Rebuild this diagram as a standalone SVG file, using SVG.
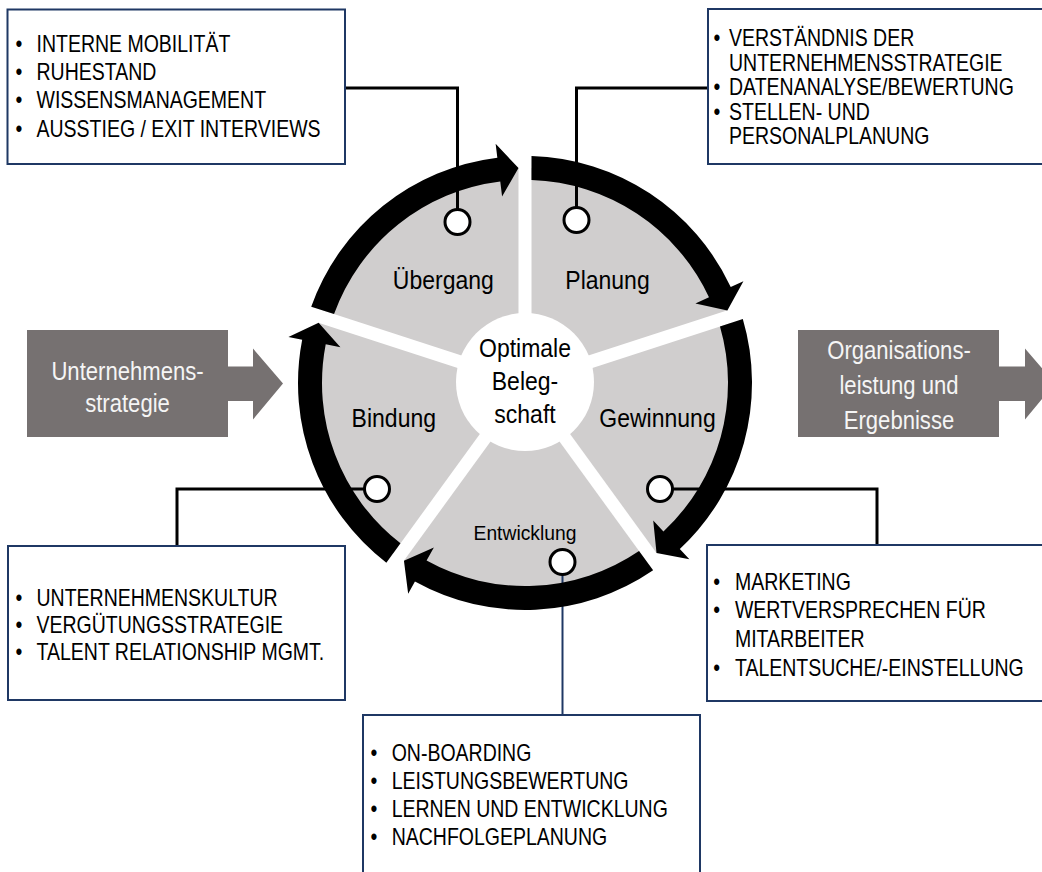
<svg xmlns="http://www.w3.org/2000/svg" width="1042" height="872" viewBox="0 0 1042 872">
<style>
.box{fill:#fff;stroke:#1f3864;stroke-width:2}
.conn{fill:none;stroke:#000;stroke-width:3}
.conn2{fill:none;stroke:#1f3864;stroke-width:2}
.bub{fill:#fff;stroke:#000;stroke-width:3}
.arr{fill:#000}
.spoke{stroke:#fff;stroke-width:13}
.bt{font-family:"Liberation Sans",Arial,sans-serif;font-size:23.5px;fill:#000}
.lbl{font-family:"Liberation Sans",Arial,sans-serif;font-size:25px;fill:#000;text-anchor:middle}
.gb{fill:#767171}
.gt{font-family:"Liberation Sans",Arial,sans-serif;font-size:26px;fill:#f5f5f5;text-anchor:middle}
</style>
<rect width="1042" height="872" fill="#fff"/>

<g id="input">
<path class="gb" d="M27,330 H228 V366.5 H253 V348.5 L283,383.5 L253,419.5 V401 H228 V437 H27 Z"/>
<g transform="translate(127.5,0) scale(0.85,1)"><text class="gt" x="0" y="380">Unternehmens-</text><text class="gt" x="0" y="412">strategie</text></g>
</g>
<g id="output">
<path class="gb" d="M798,330 H999 V366.5 H1025 V348.5 L1055,383.5 L1025,419.5 V401 H999 V437 H798 Z"/>
<g transform="translate(899,0) scale(0.85,1)"><text class="gt" x="0" y="359">Organisations-</text><text class="gt" x="0" y="394.5">leistung und</text><text class="gt" x="0" y="429">Ergebnisse</text></g>
</g>

<g id="pie">
<circle cx="525" cy="383" r="215" fill="#d0cece"/>
<line class="spoke" x1="525" y1="383" x2="525" y2="163"/>
<line class="spoke" x1="525" y1="383" x2="734.23" y2="315.02"/>
<line class="spoke" x1="525" y1="383" x2="654.31" y2="560.98"/>
<line class="spoke" x1="525" y1="383" x2="395.69" y2="560.98"/>
<line class="spoke" x1="525" y1="383" x2="315.77" y2="315.02"/>
</g>

<g id="center">
<circle cx="525" cy="382" r="69" fill="#fff"/>
<g transform="translate(525,0) scale(0.92,1)"><text class="lbl" x="0" y="357">Optimale</text><text class="lbl" x="0" y="390">Beleg-</text><text class="lbl" x="0" y="423">schaft</text></g>
</g>

<g id="connectors">
<path class="conn" d="M345,88 H457.5 V222"/>
<path class="conn" d="M708,88 H576.5 V220"/>
<path class="conn" d="M377,489 H177 V546"/>
<path class="conn" d="M660,489 H877 V545"/>
<path class="conn2" d="M562.5,562 V715"/>
</g>

<g id="cycle-arrows">
<path class="arr" d="M531.50,156.09 A227,227 0 0 1 730.73,287.07 L743.42,281.15 L727.38,310.42 L695.39,303.55 L708.98,297.21 A203,203 0 0 0 531.48,180.10 Z"/>
<path class="arr" d="M742.81,319.07 A227,227 0 0 1 679.81,549.02 L689.36,559.26 L656.53,553.08 L653.22,520.49 L663.45,531.46 A203,203 0 0 0 719.97,326.47 Z"/>
<path class="arr" d="M653.14,570.37 A227,227 0 0 1 414.95,581.54 L408.16,593.78 L403.94,560.68 L433.86,547.43 L426.58,560.55 A203,203 0 0 0 639.03,550.95 Z"/>
<path class="arr" d="M386.35,562.73 A227,227 0 0 1 302.17,339.69 L288.43,337.01 L318.61,322.77 L340.45,347.13 L325.73,344.27 A203,203 0 0 0 400.48,543.32 Z"/>
<path class="arr" d="M311.21,306.70 A227,227 0 0 1 497.34,157.69 L495.63,143.80 L518.51,168.10 L502.09,196.40 L500.26,181.51 A203,203 0 0 0 334.04,314.12 Z"/>
</g>

<g id="uebergang">
<g transform="translate(443.3,0) scale(0.92,1)"><text class="lbl" x="0" y="289">Übergang</text></g>
<circle class="bub" cx="457.5" cy="222" r="12.5"/>
</g>
<g id="planung">
<g transform="translate(607.5,0) scale(0.92,1)"><text class="lbl" x="0" y="289">Planung</text></g>
<circle class="bub" cx="576.5" cy="220" r="12.5"/>
</g>
<g id="gewinnung">
<g transform="translate(657.5,0) scale(0.92,1)"><text class="lbl" x="0" y="427">Gewinnung</text></g>
<circle class="bub" cx="660" cy="489" r="12.5"/>
</g>
<g id="entwicklung">
<g transform="translate(525,0) scale(0.92,1)"><text class="lbl" x="0" y="540" style="font-size:21px">Entwicklung</text></g>
<circle class="bub" cx="562.5" cy="562" r="12.5"/>
</g>
<g id="bindung">
<g transform="translate(393.8,0) scale(0.92,1)"><text class="lbl" x="0" y="427">Bindung</text></g>
<circle class="bub" cx="377" cy="489" r="12.5"/>
</g>

<g id="box-uebergang">
<rect class="box" x="7.5" y="9.5" width="337.5" height="154.5"/>
<g transform="translate(15.6,0) scale(0.83,1)">
<text class="bt" y="52"><tspan x="0">•</tspan><tspan x="25.2">INTERNE MOBILITÄT</tspan></text>
<text class="bt" y="80"><tspan x="0">•</tspan><tspan x="25.2">RUHESTAND</tspan></text>
<text class="bt" y="108.5"><tspan x="0">•</tspan><tspan x="25.2">WISSENSMANAGEMENT</tspan></text>
<text class="bt" y="137"><tspan x="0">•</tspan><tspan x="25.2">AUSSTIEG / EXIT INTERVIEWS</tspan></text>
</g>
</g>

<g id="box-planung">
<rect class="box" x="708" y="9" width="345" height="155"/>
<g transform="translate(713.6,0) scale(0.83,1)">
<text class="bt" y="46.5"><tspan x="0">•</tspan><tspan x="18.6">VERSTÄNDNIS DER</tspan></text>
<text class="bt" y="71"><tspan x="18.6">UNTERNEHMENSSTRATEGIE</tspan></text>
<text class="bt" y="95.5"><tspan x="0">•</tspan><tspan x="18.6">DATENANALYSE/BEWERTUNG</tspan></text>
<text class="bt" y="120"><tspan x="0">•</tspan><tspan x="18.6">STELLEN- UND</tspan></text>
<text class="bt" y="144.5"><tspan x="18.6">PERSONALPLANUNG</tspan></text>
</g>
</g>

<g id="box-bindung">
<rect class="box" x="8" y="546" width="337" height="154"/>
<g transform="translate(15.6,0) scale(0.83,1)">
<text class="bt" y="606.5"><tspan x="0">•</tspan><tspan x="25.2">UNTERNEHMENSKULTUR</tspan></text>
<text class="bt" y="633.5"><tspan x="0">•</tspan><tspan x="25.2">VERGÜTUNGSSTRATEGIE</tspan></text>
<text class="bt" y="660"><tspan x="0">•</tspan><tspan x="25.2">TALENT RELATIONSHIP MGMT.</tspan></text>
</g>
</g>

<g id="box-gewinnung">
<rect class="box" x="707" y="545" width="346" height="156"/>
<g transform="translate(713.3,0) scale(0.83,1)">
<text class="bt" y="590"><tspan x="0">•</tspan><tspan x="26.1">MARKETING</tspan></text>
<text class="bt" y="618.5"><tspan x="0">•</tspan><tspan x="26.1">WERTVERSPRECHEN FÜR</tspan></text>
<text class="bt" y="647.5"><tspan x="26.1">MITARBEITER</tspan></text>
<text class="bt" y="676.5"><tspan x="0">•</tspan><tspan x="26.1">TALENTSUCHE/-EINSTELLUNG</tspan></text>
</g>
</g>

<g id="box-entwicklung">
<rect class="box" x="363" y="715" width="337" height="170"/>
<g transform="translate(370.6,0) scale(0.83,1)">
<text class="bt" y="761.5"><tspan x="0">•</tspan><tspan x="25.4">ON-BOARDING</tspan></text>
<text class="bt" y="789.5"><tspan x="0">•</tspan><tspan x="25.4">LEISTUNGSBEWERTUNG</tspan></text>
<text class="bt" y="817"><tspan x="0">•</tspan><tspan x="25.4">LERNEN UND ENTWICKLUNG</tspan></text>
<text class="bt" y="845"><tspan x="0">•</tspan><tspan x="25.4">NACHFOLGEPLANUNG</tspan></text>
</g>
</g>
</svg>
